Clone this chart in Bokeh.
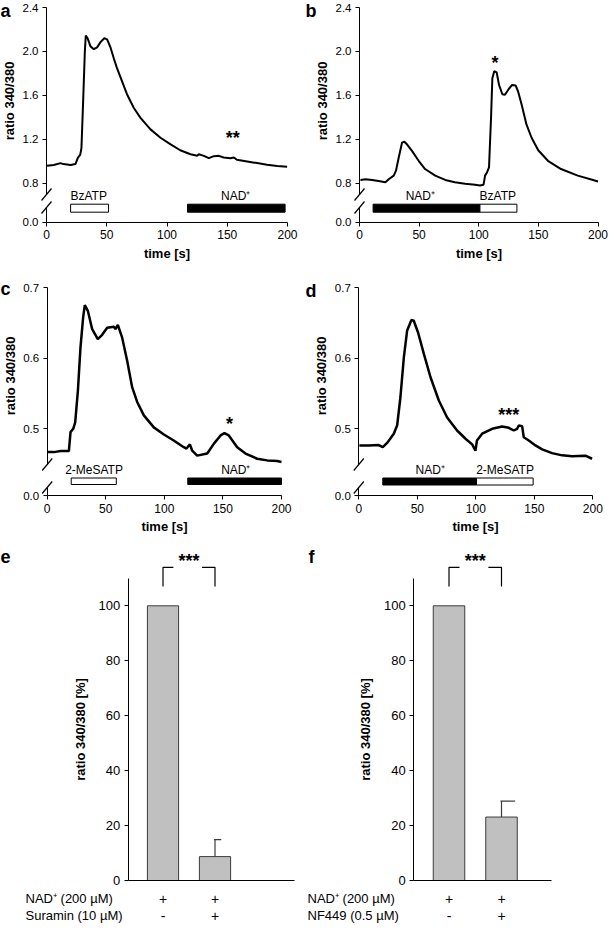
from bokeh.plotting import figure
from bokeh.models import Range1d, LinearAxis, FixedTicker, PrintfTickFormatter
from bokeh.layouts import row, column
from bokeh.embed import file_html
from bokeh.resources import INLINE
from bokeh.core.properties import value

FONT = "Liberation Sans"

# ---------------- data ----------------
time_ticks = [0, 50, 100, 150, 200]
ticks_ab = [0.8, 1.2, 1.6, 2.0, 2.4]
ticks_cd = [0.5, 0.6, 0.7]
bar_ticks = [0, 20, 40, 60, 80, 100]

a_time = [0.5, 6, 11.6, 14, 20, 24, 26, 28, 29, 30.4, 31.8, 32.6, 34.3, 36.5, 39.3, 42, 44.8, 48, 50.3, 53,
          55.9, 58.6, 62.8, 67, 72.5, 78, 86.3, 94.6, 103, 111, 119.5, 125, 126.4, 130.6, 134.7, 138.9, 143,
          147, 152.7, 155.5, 158, 166.5, 174.8, 183, 191.4, 199.7]
a_ratio = [0.959, 0.965, 0.983, 0.974, 0.965, 0.974, 1.03, 1.06, 1.12, 1.545, 1.995, 2.145, 2.115, 2.046, 2.02,
           2.037, 2.085, 2.12, 2.11, 2.04, 1.935, 1.845, 1.725, 1.605, 1.485, 1.395, 1.29, 1.214, 1.154, 1.10,
           1.064, 1.05, 1.064, 1.049, 1.028, 1.046, 1.049, 1.034, 1.028, 1.034, 1.013, 0.998, 0.983, 0.968,
           0.956, 0.95]
a_periods = [20, 51.5, 117, 198]          # start, end, start, end
a_names = ["BzATP", "NAD\u207a"]
a_fills = ["white", "black"]
a_label_x = [35, 157]
a_star = ("**", 154.6, 1.244)

b_time = [0.8, 5, 10.6, 16, 21.7, 24.5, 28.7, 30.6, 32.9, 35.7, 37.6, 39.8, 44, 49.6, 55, 63.5, 71.9, 80, 88.6,
          97, 101, 104, 105.3, 107, 108.6, 110.3, 111.4, 113, 115, 117, 119.8, 122, 125.3, 128, 130.9, 133, 136,
          140, 144.3, 149.9, 158, 169, 183, 194.4, 200]
b_ratio = [0.83, 0.836, 0.83, 0.821, 0.809, 0.836, 0.869, 0.914, 1.034, 1.17, 1.178, 1.154, 1.094, 1.004, 0.929,
           0.869, 0.83, 0.809, 0.794, 0.785, 0.779, 0.785, 0.869, 0.90, 0.944, 1.395, 1.755, 1.82, 1.81, 1.695,
           1.61, 1.605, 1.66, 1.695, 1.69, 1.635, 1.515, 1.335, 1.214, 1.10, 1.004, 0.929, 0.869, 0.833, 0.815]
b_periods = [11.4, 101, 101, 132]
b_names = ["NAD\u207a", "BzATP"]
b_fills = ["black", "white"]
b_label_x = [51, 116]
b_star = ("*", 113.6, 1.93)

c_time = [0, 5.7, 11.4, 18.5, 19.9, 22.2, 23.9, 26.2, 28.4, 30.7, 32.1, 34.7, 38.4, 43.2, 46.9, 51.2, 56.9, 58.3,
          60.3, 64, 68.3, 72.5, 76.8, 82.5, 91, 99.6, 108, 116.6, 118.9, 121.8, 123.8, 128, 136.6, 142.3, 148,
          151.3, 155, 162.2, 169.3, 179.2, 187.8, 196.3, 200]
c_ratio = [0.467, 0.467, 0.4685, 0.4685, 0.4953, 0.5, 0.509, 0.554, 0.615, 0.658, 0.675, 0.667, 0.641, 0.627,
           0.633, 0.643, 0.6445, 0.641, 0.647, 0.629, 0.596, 0.559, 0.538, 0.519, 0.502, 0.492, 0.4835, 0.474,
           0.472, 0.478, 0.469, 0.462, 0.465, 0.479, 0.4906, 0.4939, 0.4906, 0.474, 0.465, 0.4576, 0.4553,
           0.4544, 0.453]
c_periods = [20.5, 59, 120, 200]
c_names = ["2-MeSATP", "NAD\u207a"]
c_fills = ["white", "black"]
c_label_x = [40, 161]
c_star = ("*", 155.6, 0.512)

d_time = [0.5, 8.5, 17, 20.5, 24.2, 29.9, 32.8, 35.6, 38.5, 41.3, 45, 47, 50.7, 55.6, 61.3, 68.4, 75.5, 84, 91.2,
          96.9, 99.7, 101, 105.4, 114, 122.5, 128.2, 132.5, 135.3, 136.75, 139.6, 141, 145.3, 151, 156.7, 165.2,
          173.8, 182.3, 193.7, 199.4]
d_ratio = [0.4765, 0.4765, 0.477, 0.474, 0.48, 0.493, 0.505, 0.545, 0.601, 0.639, 0.654, 0.653, 0.636, 0.606,
           0.573, 0.54, 0.516, 0.4976, 0.4859, 0.478, 0.469, 0.4835, 0.493, 0.5, 0.5033, 0.5014, 0.4976, 0.5,
           0.5047, 0.5038, 0.488, 0.4835, 0.4765, 0.4708, 0.4656, 0.4624, 0.461, 0.462, 0.4576]
d_periods = [20.5, 100.6, 100.6, 149]
d_names = ["NAD\u207a", "2-MeSATP"]
d_fills = ["black", "white"]
d_label_x = [61, 125]
d_star = ("***", 128.2, 0.525)

bar_pos = [1, 2]
e_mean = [100, 8.7]
e_err = [0, 6.2]
e_rows = ["NAD\u207a (200 \u00b5M)", "Suramin (10 \u00b5M)"]
e_signs = [["+", "+"], ["-", "+"]]

f_mean = [100, 23.1]
f_err = [0, 5.8]
f_rows = ["NAD\u207a (200 \u00b5M)", "NF449 (0.5 \u00b5M)"]
f_signs = [["+", "+"], ["-", "+"]]


# ---------------- helpers ----------------
def lin(pa, va, pb, vb, n):
    s = (vb - va) / (pb - pa)
    return va - pa * s, va + (n - pa) * s


def make_fig(w, h, xr, yr, extra_y=None):
    ey = {"py": Range1d(h, 0)}
    if extra_y:
        ey.update(extra_y)
    p = figure(width=w, height=h, x_range=xr, y_range=yr, x_axis_type=None, y_axis_type=None,
               toolbar_location=None, output_backend="svg", min_border=0, title=None)
    p.outline_line_color = None
    p.extra_x_ranges = {"px": Range1d(0, w)}
    p.extra_y_ranges = ey
    return p


def style_axis(a, tick_size="12px", label_standoff=4):
    a.axis_line_color = "black"
    a.axis_line_width = 1
    a.major_tick_line_color = "black"
    a.major_tick_out = 4
    a.major_tick_in = 0
    a.minor_tick_line_color = None
    a.major_label_text_font = FONT
    a.major_label_text_font_size = tick_size
    a.major_label_text_color = "black"
    a.major_label_standoff = 4
    a.axis_label_text_font = FONT
    a.axis_label_text_font_size = "13px"
    a.axis_label_text_font_style = "bold"
    a.axis_label_text_color = "black"
    a.axis_label_standoff = label_standoff


def trace_panel(cfg, t, r, periods, names, fills, label_x, star, yticks, letter):
    w, h = cfg["size"]
    x0, x1 = lin(cfg["x0px"], 0, cfg["x200px"], 200, w)
    (yv1, yp1), (yv2, yp2) = cfg["ymap"]
    ytop, ybot = lin(yp1, yv1, yp2, yv2, h)
    ax = cfg["axis_px"]
    p = make_fig(w, h, Range1d(x0, x1), Range1d(ybot, ytop),
                 extra_y={"low": Range1d(-(h - ax), ax)})

    def val_at(px):
        return yv1 + (px - yp1) * (yv2 - yv1) / (yp2 - yp1)

    su, sl = cfg["slash_up"], cfg["slash_low"]
    yaxis = LinearAxis(fixed_location=0, bounds=(val_at(ax - su), yticks[-1]),
                       ticker=FixedTicker(ticks=yticks), formatter=PrintfTickFormatter(format="%.1f"),
                       axis_label="ratio 340/380")
    style_axis(yaxis, "11.5px", 3)
    p.add_layout(yaxis, "left")

    ystub = LinearAxis(y_range_name="low", fixed_location=0, bounds=(0, sl),
                       ticker=FixedTicker(ticks=[0]), formatter=PrintfTickFormatter(format="%.1f"))
    style_axis(ystub, "11.5px")
    p.add_layout(ystub, "left")

    xaxis = LinearAxis(y_range_name="low", fixed_location=0, bounds=(0, 200),
                       ticker=FixedTicker(ticks=time_ticks), axis_label="time [s]")
    style_axis(xaxis, "12px", 3)
    p.add_layout(xaxis, "below")

    # break marks
    xa = cfg["x0px"]
    p.segment(x0=[xa - 5, xa - 5], y0=[su - 6, sl - 6], x1=[xa + 5, xa + 5], y1=[su + 6, sl + 6],
              x_range_name="px", y_range_name="low", line_color="black", line_width=1.2)

    # application periods
    lo, hi = cfg["box"]
    starts = periods[0::2]
    ends = periods[1::2]
    p.quad(left=starts, right=ends, bottom=[lo] * len(starts), top=[hi] * len(starts),
           fill_color=fills, line_color="black", line_width=1, y_range_name="low")
    p.text(x=label_x, y=[cfg["label_y"]] * len(names), text=names, y_range_name="low",
           text_align="center", text_baseline="middle", text_font=value(FONT),
           text_font_size="12px", text_color="black")

    # trace
    p.line(t, r, line_color="black", line_width=cfg["lw"])

    # significance
    p.text(x=[star[1]], y=[star[2]], text=[star[0]], text_align="center", text_baseline="middle",
           text_font=value(FONT), text_font_size="18px", text_font_style="bold", y_offset=4,
           text_color="black")

    # panel letter
    lx, ly = cfg["letter"]
    p.text(x=[lx], y=[ly], text=[letter], x_range_name="px", y_range_name="py",
           text_align="left", text_baseline="middle", text_font=value(FONT), text_font_size="18px",
           text_font_style="bold", text_color="black")
    return p


def bar_panel(cfg, means, errs, rows, signs, letter):
    w, h = cfg["size"]
    x0, x1 = lin(cfg["b1px"], bar_pos[0], cfg["b2px"], bar_pos[1], w)
    ytop, ybot = lin(cfg["y0px"], 0, cfg["y100px"], 100, h)
    p = make_fig(w, h, Range1d(x0, x1), Range1d(ybot, ytop))

    def xval(px):
        return x0 + px * (x1 - x0) / w

    ax_x = xval(cfg["axis_px"])
    end_x = xval(cfg["xend_px"])

    yaxis = LinearAxis(fixed_location=ax_x, bounds=(0, 110), ticker=FixedTicker(ticks=bar_ticks),
                       axis_label="ratio 340/380 [%]")
    style_axis(yaxis, "13px", 8)
    p.add_layout(yaxis, "left")
    xaxis = LinearAxis(fixed_location=0, bounds=(ax_x, end_x), ticker=FixedTicker(ticks=[]))
    style_axis(xaxis)
    xaxis.major_tick_out = 0
    p.add_layout(xaxis, "below")

    p.vbar(x=bar_pos, top=means, bottom=0, width=0.6, fill_color="#c0c0c0", line_color="#3c3c3c",
           line_width=1)

    ex = [x for x, e in zip(bar_pos, errs) if e > 0]
    etop = [m + e for m, e in zip(means, errs) if e > 0]
    ebot = [m for m, e in zip(means, errs) if e > 0]
    p.segment(x0=ex, y0=ebot, x1=ex, y1=etop, line_color="#3c3c3c", line_width=1.2)
    p.segment(x0=[x - 0.02 for x in ex], y0=etop, x1=[x + cfg["cap"] for x in ex], y1=etop,
              line_color="#3c3c3c", line_width=1.2)

    # significance bracket
    bx1, bx2 = bar_pos
    p.multi_line(xs=[[bx1, bx1, bx1 + 0.2], [bx2 - 0.25, bx2, bx2]],
                 ys=[[107, 114, 114], [114, 114, 107]], line_color="black", line_width=1.2)
    p.text(x=[(bx1 + bx2) / 2], y=[117.7], text=["***"], text_align="center", text_baseline="middle",
           text_font=value(FONT), text_font_size="18px", text_font_style="bold", y_offset=4,
           text_color="black")

    # treatment table
    rx, ry1, ry2 = cfg["rows"]
    p.text(x=[rx, rx], y=[ry1, ry2], text=rows, x_range_name="px", y_range_name="py",
           text_align="left", text_baseline="middle", text_font=value(FONT), text_font_size="13px",
           text_color="black")
    for sg, yy in zip(signs, [ry1, ry2]):
        p.text(x=bar_pos, y=[yy, yy], text=sg, y_range_name="py", text_align="center",
               text_baseline="middle", text_font=value(FONT), text_font_size="14px", text_color="black")

    lx, ly = cfg["letter"]
    p.text(x=[lx], y=[ly], text=[letter], x_range_name="px", y_range_name="py",
           text_align="left", text_baseline="middle", text_font=value(FONT), text_font_size="18px",
           text_font_style="bold", text_color="black")
    return p


cfg_a = dict(size=(305, 270), x0px=46, x200px=287, ymap=((2.4, 7), (0.8, 182.7)), axis_px=221.7,
             slash_up=27.7, slash_low=14.7, box=(10, 18), label_y=26.5, lw=2, letter=(0, 10))
cfg_b = dict(size=(304, 270), x0px=54, x200px=292.5, ymap=((2.4, 7), (0.8, 182.7)), axis_px=221.7,
             slash_up=27.7, slash_low=14.7, box=(10, 18), label_y=26.5, lw=2, letter=(0, 10))
cfg_c = dict(size=(305, 270), x0px=46.7, x200px=281, ymap=((0.7, 17), (0.5, 158.3)), axis_px=225,
             slash_up=31, slash_low=8, box=(11, 17.5), label_y=26, lw=2.5, letter=(0, 18))
cfg_d = dict(size=(304, 270), x0px=53.3, x200px=287.3, ymap=((0.7, 17), (0.5, 158.3)), axis_px=225,
             slash_up=31, slash_low=8, box=(10.5, 17.5), label_y=25.5, lw=2.5, letter=(0, 20))
cfg_e = dict(size=(305, 392), b1px=162.5, b2px=214.5, y0px=340, y100px=65.3, axis_px=127.7, xend_px=294,
             cap=0.12, rows=(25, 358, 375), letter=(0, 16))
cfg_f = dict(size=(304, 392), b1px=143.5, b2px=196, y0px=340, y100px=65.3, axis_px=108.3, xend_px=246,
             cap=0.26, rows=(2, 358, 375), letter=(3, 16))

pa = trace_panel(cfg_a, a_time, a_ratio, a_periods, a_names, a_fills, a_label_x, a_star, ticks_ab, "a")
pb = trace_panel(cfg_b, b_time, b_ratio, b_periods, b_names, b_fills, b_label_x, b_star, ticks_ab, "b")
pc = trace_panel(cfg_c, c_time, c_ratio, c_periods, c_names, c_fills, c_label_x, c_star, ticks_cd, "c")
pd_ = trace_panel(cfg_d, d_time, d_ratio, d_periods, d_names, d_fills, d_label_x, d_star, ticks_cd, "d")
pe = bar_panel(cfg_e, e_mean, e_err, e_rows, e_signs, "e")
pf = bar_panel(cfg_f, f_mean, f_err, f_rows, f_signs, "f")

layout = column(row(pa, pb), row(pc, pd_), row(pe, pf))
open("out.html", "w").write(file_html(layout, INLINE))
